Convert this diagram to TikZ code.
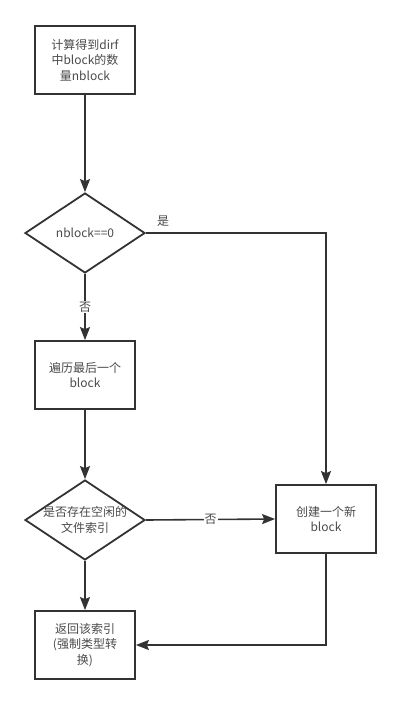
\documentclass[tikz,border=0pt]{standalone}
\usepackage{fontspec}
\newfontfamily\cjk{Noto Sans CJK SC}
\usetikzlibrary{shapes.geometric,arrows.meta}
\definecolor{lc}{HTML}{333333}
\definecolor{tc}{HTML}{4A4A4A}
\tikzset{
  box/.style={draw=lc, line width=1.8pt, fill=white, minimum width=100pt, minimum height=68pt, inner sep=0pt},
  dia/.style={draw=lc, line width=1.8pt, fill=white, shape=diamond, minimum width=120pt, minimum height=80pt, inner sep=0pt},
  txt/.style={text=tc, font=\cjk\fontsize{12}{15.5}\selectfont, align=center, inner sep=0pt},
  conn/.style={draw=lc, line width=1.6pt, -{Stealth[length=13pt,width=10pt,inset=2pt]}},
  lab/.style={text=tc, font=\cjk\fontsize{12}{14}\selectfont, inner sep=1pt},
}
\begin{document}
\begin{tikzpicture}[x=1pt,y=-1pt]
\useasboundingbox (0,0) rectangle (401,705);
\fill[white] (0,0) rectangle (401,705);
\node[box] (b1) at (85,60) {};
\node[txt] (t1) at (b1) {计算得到dirf\\中block的数\\量nblock};
\node[dia] (d1) at (85,233) {};
\node[txt] (t2) at (d1) {nblock==0};
\node[box] (b2) at (85,375) {};
\node[txt] (t3) at (b2) {遍历最后一个\\block};
\node[dia] (d2) at (85,520) {};
\node[txt] (t4) at (d2) {是否存在空闲的\\文件索引};
\node[box] (b3) at (326,519) {};
\node[txt] (t5) at (b3) {创建一个新\\block};
\node[box] (b4) at (85,645) {};
\node[txt] (t6) at (b4) {返回该索引\\(强制类型转\\换)};
\coordinate (c1) at (326,233);
\coordinate (c2) at (326,645);
\draw[conn] (b1) -- (d1);
\draw[conn] (d1) -- node[lab, fill=white, pos=0.5] (l1) {否} (b2);
\draw[conn] (d1.east) -- (c1) -- (b3.north);
\node[lab] (l2) at (163,221) {是};
\draw[conn] (b2) -- (d2);
\draw[conn] (d2) -- (b4);
\draw[conn] (d2.east) -- node[lab, fill=white, pos=0.5] (l3) {否} (b3.west);
\draw[conn] (b3.south) -- (c2) -- (b4.east);
\end{tikzpicture}
\end{document}
